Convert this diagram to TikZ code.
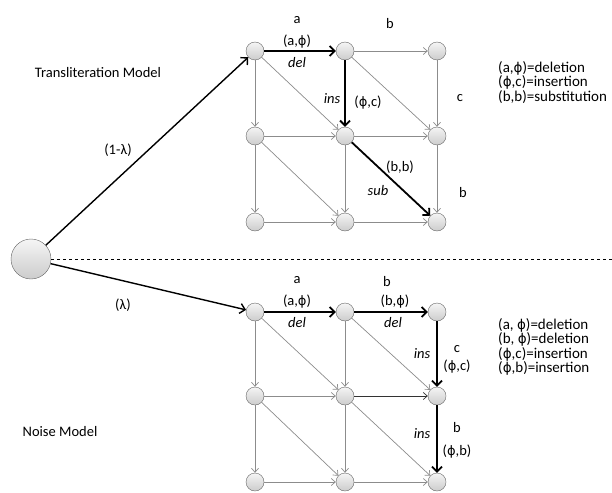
\documentclass[tikz,border=0pt]{standalone}
\usepackage{fontspec}
\setmainfont{Carlito}
\newfontfamily\phif{DejaVu Sans}[Scale=0.9]
\newcommand\myphi{{\phif ϕ}}
\usetikzlibrary{arrows.meta}
\begin{document}
\begin{tikzpicture}[x=1pt,y=-1pt,
 st/.style={circle,minimum size=18pt,inner sep=0pt,draw=black!60,top color=gray!8,bottom color=gray!40},
 big/.style={st,minimum size=40pt},
 ga/.style={draw=black!45,line width=0.7pt,-{Straight Barb[length=4pt,width=7pt]}},
 ba/.style={draw=black,line width=1.8pt,-{Straight Barb[length=5pt,width=10pt]}},
 lbl/.style={font=\fontsize{14.5}{16}\selectfont,inner sep=0pt},
 itl/.style={inner sep=0pt,font=\fontsize{14.5}{16}\selectfont\itshape},
 leg/.style={inner sep=0pt,anchor=north west,align=left,font=\fontsize{15}{14.5}\selectfont}
]
\useasboundingbox (0,0) rectangle (612,492);
% top grid
\foreach \i/\x in {1/255,2/345,3/437}{
  \foreach \j/\y in {1/51,2/136,3/222}{
    \node[st] (t\j\i) at (\x,\y) {};
  }
}
% bottom grid
\foreach \i/\x in {1/255,2/345,3/437}{
  \foreach \j/\y in {1/312,2/396,3/482}{
    \node[st] (b\j\i) at (\x,\y) {};
  }
}
\node[big] (s) at (31,259) {};
\draw[dashed,line width=0.6pt] (s.east) -- (612,259);

% top grid connectors
\draw[ga] (t12) -- (t13);
\draw[ga] (t21) -- (t22);
\draw[ga] (t22) -- (t23);
\draw[ga] (t31) -- (t32);
\draw[ga] (t32) -- (t33);
\draw[ga] (t11) -- (t21);
\draw[ga] (t21) -- (t31);
\draw[ga] (t22) -- (t32);
\draw[ga] (t13) -- (t23);
\draw[ga] (t23) -- (t33);
\draw[ga] (t11) -- (t22);
\draw[ga] (t12) -- (t23);
\draw[ga] (t21) -- (t32);
\draw[ba] (t11) -- (t12);
\draw[ba] (t12) -- (t22);
\draw[ba] (t22) -- (t33);

% bottom grid connectors
\draw[ga] (b21) -- (b22);
\draw[ga,draw=black!80] (b22) -- (b23);
\draw[ga] (b31) -- (b32);
\draw[ga] (b32) -- (b33);
\draw[ga] (b11) -- (b21);
\draw[ga] (b21) -- (b31);
\draw[ga] (b12) -- (b22);
\draw[ga] (b22) -- (b32);
\draw[ga] (b11) -- (b22);
\draw[ga] (b12) -- (b23);
\draw[ga] (b21) -- (b32);
\draw[ga] (b22) -- (b33);
\draw[ba] (b11) -- (b12);
\draw[ba] (b12) -- (b13);
\draw[ba] (b13) -- (b23);
\draw[ba] (b23) -- (b33);

% start arrows
\draw[ba,line width=1.4pt] (s) -- (t11);
\draw[ba,line width=1.4pt] (s) -- (b11);

% labels
\node[lbl] (lTM) at (98,73) {Transliteration Model};
\node[lbl] (lNM) at (60,432) {Noise Model};
\node[lbl] (l1l) at (118,150) {(1-λ)};
\node[lbl] (ll) at (123,305) {(λ)};

\node[lbl] (ta) at (297,20) {a};
\node[lbl] (tb) at (390,24) {b};
\node[lbl] (tap) at (297,42) {(a,\myphi)};
\node[itl] (tdel) at (297,63) {del};
\node[itl] (tins) at (332,99) {ins};
\node[lbl] (tpc) at (368,103) {(\myphi,c)};
\node[lbl] (tc) at (460,98) {c};
\node[lbl] (tbb) at (400,167) {(b,b)};
\node[itl] (tsub) at (378,191) {sub};
\node[lbl] (tb2) at (463,193) {b};

\node[lbl] (ba) at (297,280) {a};
\node[lbl] (bb) at (387,282) {b};
\node[lbl] (bap) at (297,302) {(a,\myphi)};
\node[lbl] (bbp) at (395,302) {(b,\myphi)};
\node[itl] (bdel1) at (297,323) {del};
\node[itl] (bdel2) at (393,323) {del};
\node[itl] (bins1) at (422,354) {ins};
\node[lbl] (bc) at (457,349) {c};
\node[lbl] (bpc) at (457,367) {(\myphi,c)};
\node[itl] (bins2) at (422,434) {ins};
\node[lbl] (bb2) at (457,428) {b};
\node[lbl] (bpb) at (457,452) {(\myphi,b)};

% legends
\node[leg] (g) at (498,61) {(a,\myphi)=deletion\\(\myphi,c)=insertion\\(b,b)=substitution};
\node[leg] (h) at (498,318) {(a, \myphi)=deletion\\(b, \myphi)=deletion\\(\myphi,c)=insertion\\(\myphi,b)=insertion};
\end{tikzpicture}
\end{document}
